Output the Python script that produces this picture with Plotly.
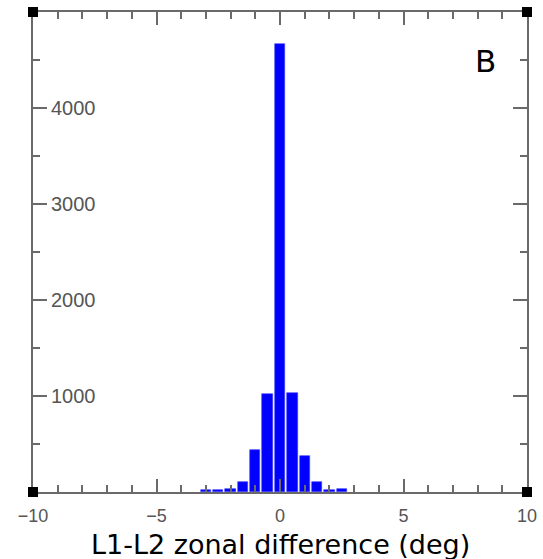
import plotly.graph_objects as go

# Data
bin_centers = [-3.0, -2.5, -2.0, -1.5, -1.0, -0.5, 0.0, 0.5, 1.0, 1.5, 2.0, 2.5]
counts = [20, 25, 35, 105, 440, 1020, 4670, 1035, 380, 105, 25, 30]
x_tick_vals = [-10, -5, 0, 5, 10]
x_tick_text = ["\u221210", "\u22125", "0", "5", "10"]
y_tick_vals = [1000, 2000, 3000, 4000]
y_tick_text = ["1000", "2000", "3000", "4000"]
x_title = "L1-L2 zonal difference (deg)"
panel_label = "B"

axis_color = "#6a6a6a"
label_color = "#555555"

fig = go.Figure()
fig.add_trace(go.Bar(
    x=bin_centers, y=counts, width=0.42,
    marker=dict(color="#0000ff", line=dict(color="#3a3aff", width=0.6)),
))

fig.update_layout(
    width=543, height=559,
    margin=dict(l=33, r=16, t=12, b=67, autoexpand=False),
    paper_bgcolor="white", plot_bgcolor="white",
    showlegend=False,
    bargap=0,
    xaxis=dict(
        range=[-10, 10], showgrid=False, zeroline=False, automargin=False,
        showline=True, linecolor=axis_color, linewidth=2, mirror="ticks",
        ticks="inside", ticklen=13, tickwidth=1.5, tickcolor=axis_color,
        tickvals=x_tick_vals, ticktext=x_tick_text,
        ticklabeloverflow="allow",
        tickfont=dict(family="Liberation Sans", size=18, color=label_color),
        ticklabelstandoff=6,
        minor=dict(ticks="inside", ticklen=7, dtick=1, tickcolor=axis_color, tickwidth=1.5),
    ),
    yaxis=dict(
        range=[0, 5000], showgrid=False, zeroline=False, automargin=False,
        showline=True, linecolor=axis_color, linewidth=2, mirror="ticks",
        ticks="inside", ticklen=14, tickwidth=1.5, tickcolor=axis_color,
        tickvals=y_tick_vals, showticklabels=False,
        minor=dict(ticks="inside", ticklen=7, dtick=500, tickcolor=axis_color, tickwidth=1.5),
    ),
    # separate overlaying axis carrying the tick labels that sit inside the frame
    yaxis2=dict(
        range=[0, 5000], overlaying="y", anchor="free", position=0, side="right",
        showgrid=False, zeroline=False, showline=False, automargin=False,
        ticks="", tickvals=y_tick_vals, ticktext=y_tick_text,
        ticklabelstandoff=17,
        tickfont=dict(family="Liberation Sans", size=20, color=label_color),
    ),
)

# invisible trace to activate yaxis2
fig.add_trace(go.Scatter(x=[None], y=[None], yaxis="y2", showlegend=False,
                         hoverinfo="skip"))

# axis title
fig.add_annotation(
    text=x_title, xref="paper", yref="paper", x=0.5, y=-0.072, yanchor="top",
    showarrow=False, font=dict(family="DejaVu Sans", size=27, color="black"),
)
# panel label
fig.add_annotation(
    text=panel_label, xref="paper", yref="paper", x=0.915, y=0.898,
    xanchor="center", yanchor="middle",
    showarrow=False, font=dict(family="DejaVu Sans", size=31, color="black"),
)
# fragment of neighbouring panel text at left edge
fig.add_annotation(
    text=")", xref="paper", yref="paper", x=-0.0587, y=-0.0458,
    xanchor="right", yanchor="middle",
    showarrow=False, font=dict(family="DejaVu Sans", size=27, color="black"),
)

# corner markers
for cx, cy in [(0, 0), (0, 1), (1, 0), (1, 1)]:
    fig.add_shape(type="rect", xref="paper", yref="paper",
                  x0=-5, x1=5, y0=-5, y1=5,
                  xsizemode="pixel", ysizemode="pixel",
                  xanchor=cx, yanchor=cy,
                  line=dict(width=0), fillcolor="black",
                  layer="above")

fig.write_html(
    "out.html",
    config={"displayModeBar": False},
    post_script="document.body.style.margin='0';document.body.style.overflow='hidden';",
)
